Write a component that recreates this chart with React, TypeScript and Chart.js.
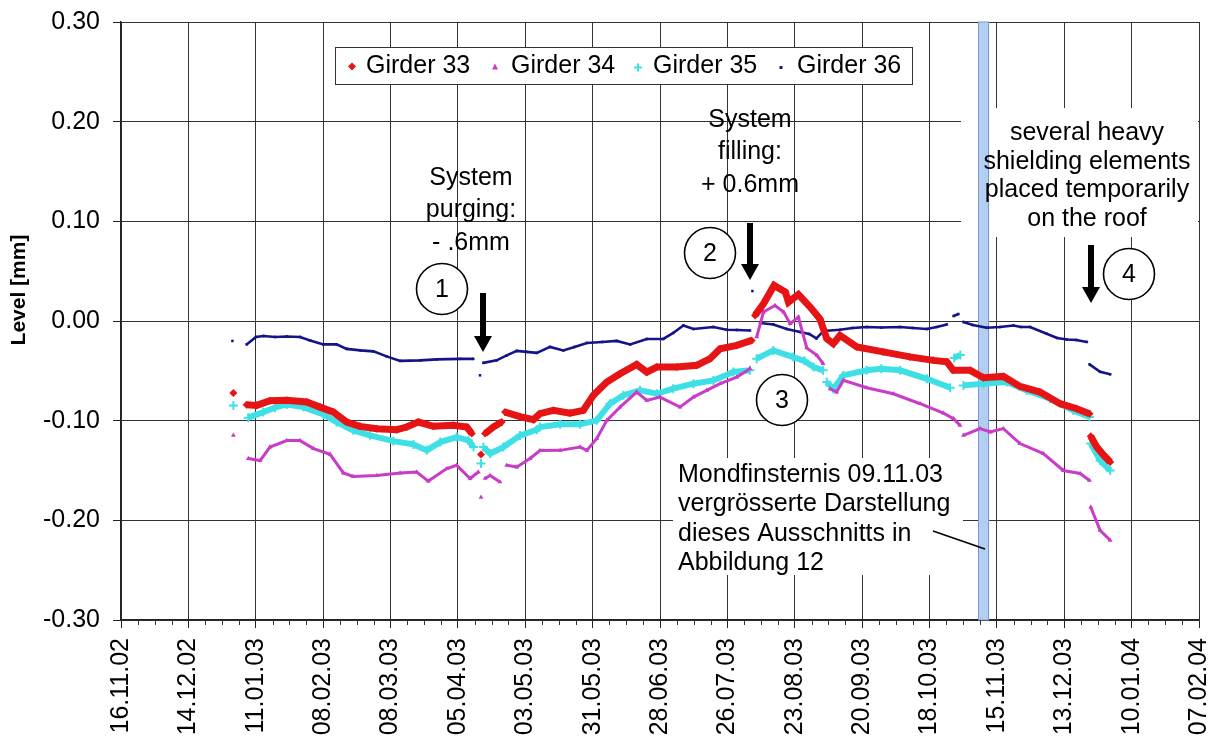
import React, { useEffect, useRef } from 'react';
import { Chart, registerables } from 'chart.js';

Chart.register(...registerables);

// ---- axis / tick data ----
const X_TICK_LABELS = [
  '16.11.02', '14.12.02', '11.01.03', '08.02.03', '08.03.03', '05.04.03', '03.05.03', '31.05.03',
  '28.06.03', '26.07.03', '23.08.03', '20.09.03', '18.10.03', '15.11.03', '13.12.03', '10.01.04', '07.02.04',
];
const X_MAJOR_STEP = 28; // days between labelled ticks
const X_MINOR_STEP = 7; // days between minor ticks
const X_MAX = 448; // days from 16.11.02 to 07.02.04
const Y_MIN = -0.3;
const Y_MAX = 0.3;
const Y_STEP = 0.1;

const SERIES_NAMES = ['Girder 33', 'Girder 34', 'Girder 35', 'Girder 36'];

// ---- series: [days since 16.11.02, level in mm] (null = gap) ----
type P = [number, number | null];

const GIRDER_33: P[] = [
  [46.7, -0.0723], [49.5, null],
  [52.2, -0.084], [56.4, -0.0847], [61.9, -0.08], [68.9, -0.0796], [77.2, -0.0813], [82.7, -0.0864],
  [88.3, -0.0914], [93.8, -0.1014], [99.3, -0.1057], [106.3, -0.108], [114.6, -0.109], [118.7, -0.1064],
  [123.6, -0.1014], [129.8, -0.1057], [138.1, -0.1047], [143.7, -0.1064], [145.8, -0.113], [147.6, null],
  [149.6, -0.134], [150.4, null],
  [151.3, -0.113], [154.7, -0.1064], [158.2, -0.1014], [159.0, null],
  [159.6, -0.0914], [165.8, -0.096], [171.4, -0.099], [174.1, -0.093], [179.7, -0.0897], [186.6, -0.0924],
  [192.1, -0.0897], [196.3, -0.0746], [201.9, -0.0613], [207.4, -0.0529], [214.3, -0.0435], [218.5, -0.0513],
  [222.7, -0.0462], [231.0, -0.0462], [239.3, -0.0445], [244.8, -0.0378], [249.0, -0.0278], [255.9, -0.0245],
  [262.1, -0.0195], [262.8, null],
  [263.5, 0.0056], [267.0, 0.0173], [271.4, 0.0357], [276.1, 0.029], [277.4, 0.019], [281.5, 0.0267],
  [286.4, 0.014], [290.5, 0.002], [293.3, -0.0178], [296.0, -0.0228], [298.8, -0.0145], [305.8, -0.026],
  [316.8, -0.031], [327.9, -0.036], [337.6, -0.0395], [343.2, -0.041], [345.9, -0.0495], [352.9, -0.0495],
  [358.4, -0.0569], [366.7, -0.0556], [373.6, -0.0656], [381.9, -0.0713], [390.3, -0.083], [397.2, -0.088],
  [402.5, -0.093], [402.7, null],
  [403.0, -0.1157], [405.5, -0.1265], [408.5, -0.135], [411.1, -0.1415],
];

const GIRDER_34: P[] = [
  [46.7, -0.1147], [49.5, null],
  [52.9, -0.138], [57.8, -0.14], [61.9, -0.1265], [68.9, -0.12], [74.4, -0.12], [80.0, -0.128],
  [86.9, -0.1338], [92.4, -0.1525], [96.5, -0.156], [106.3, -0.155], [116.0, -0.1525], [122.9, -0.1515],
  [127.7, -0.1606], [135.4, -0.148], [139.5, -0.1448], [145.1, -0.158], [148.5, -0.1515], [149.0, null],
  [149.6, -0.177], [150.3, null],
  [151.3, -0.158], [153.4, -0.155], [157.5, -0.1615], [159.0, null],
  [160.3, -0.1448], [164.5, -0.1465], [170.0, -0.138], [174.1, -0.13], [182.5, -0.1298], [190.8, -0.1265],
  [193.6, -0.1298], [197.7, -0.118], [201.9, -0.0997], [207.4, -0.0864], [214.3, -0.0713], [218.5, -0.0796],
  [224.0, -0.0763], [232.3, -0.0864], [237.9, -0.0763], [243.4, -0.0696], [249.0, -0.0629], [255.9, -0.0563],
  [261.4, -0.0478], [262.5, null],
  [264.2, -0.016], [267.0, 0.009], [271.8, 0.0156], [275.4, 0.009], [278.1, -0.0027], [281.5, 0.004],
  [285.0, -0.027], [289.2, -0.0345], [291.8, -0.0428], [293.0, null],
  [294.7, -0.068], [297.4, -0.0713], [300.2, -0.0596], [309.9, -0.0669], [321.0, -0.073], [332.1, -0.083],
  [341.8, -0.0924], [346.0, -0.098], [348.7, -0.1047], [349.4, null],
  [350.1, -0.1147], [357.0, -0.108], [361.2, -0.1114], [366.7, -0.108], [373.6, -0.123], [383.3, -0.133],
  [391.6, -0.15], [398.6, -0.153], [402.5, -0.16], [402.7, null],
  [403.0, -0.1866], [406.9, -0.21], [411.1, -0.22],
];

const GIRDER_35: P[] = [
  [46.7, -0.0847], [49.5, null],
  [52.9, -0.097], [59.1, -0.0914], [64.0, -0.087], [68.9, -0.0837], [75.8, -0.0864], [84.1, -0.0937],
  [89.6, -0.1014], [96.5, -0.1097], [103.5, -0.1147], [113.2, -0.1205], [121.5, -0.1238], [127.1, -0.1298],
  [132.7, -0.1215], [139.5, -0.1164], [144.4, -0.1198], [146.5, -0.1265], [148.0, null],
  [149.6, -0.143], [150.1, null],
  [150.6, -0.1265], [153.4, -0.133], [158.9, -0.1265], [165.8, -0.115], [172.8, -0.109], [174.1, -0.1064],
  [182.5, -0.1037], [190.8, -0.1037], [197.7, -0.0997], [203.2, -0.083], [208.8, -0.0746], [215.7, -0.0696],
  [222.7, -0.073], [229.5, -0.0679], [237.9, -0.0629], [246.2, -0.0596], [254.5, -0.0512], [261.4, -0.0495],
  [262.5, null],
  [264.2, -0.0378], [271.1, -0.0295], [279.4, -0.0362], [284.0, -0.04], [287.8, -0.0462], [291.8, -0.0495],
  [292.6, null],
  [293.3, -0.0613], [296.0, -0.068], [300.2, -0.0546], [309.9, -0.0495], [316.0, -0.048], [323.8, -0.0495],
  [334.9, -0.058], [344.6, -0.0669], [345.5, null],
  [346.3, -0.037], [348.8, -0.034], [349.5, null],
  [350.1, -0.0646], [358.4, -0.0629], [368.1, -0.0613], [376.4, -0.0696], [386.1, -0.078], [395.8, -0.0897],
  [402.5, -0.0964], [402.7, null],
  [403.0, -0.123], [406.9, -0.14], [411.1, -0.15],
];

const GIRDER_36: P[] = [
  [46.3, -0.02], [49.0, null],
  [52.2, -0.0235], [56.1, -0.016], [59.2, -0.015], [64.0, -0.016], [68.9, -0.0155], [74.4, -0.016],
  [78.6, -0.0195], [84.1, -0.0235], [89.6, -0.0235], [93.8, -0.028], [99.5, -0.0295], [104.9, -0.0305],
  [110.4, -0.0355], [116.0, -0.04], [124.3, -0.0395], [131.2, -0.0385], [140.9, -0.038], [146.4, -0.038],
  [147.8, null],
  [149.2, -0.0545], [149.9, null],
  [150.6, -0.042], [156.1, -0.0395], [160.3, -0.0345], [164.5, -0.03], [168.5, -0.031], [172.8, -0.032],
  [178.3, -0.026], [183.8, -0.0295], [188.5, -0.026], [193.6, -0.022], [200.0, -0.021], [206.0, -0.02],
  [211.6, -0.0235], [218.5, -0.018], [225.4, -0.018], [229.5, -0.012], [233.7, -0.0045], [237.9, -0.008],
  [246.2, -0.006], [251.7, -0.0088], [256.0, -0.009], [261.4, -0.0095], [261.9, null],
  [262.4, 0.03], [263.0, null],
  [265.6, -0.002], [271.1, -0.0035], [276.7, -0.008], [282.2, -0.011], [286.0, -0.013], [289.0, -0.0175],
  [292.0, -0.01], [298.8, -0.0088], [304.0, -0.007], [309.9, -0.006], [316.0, -0.0065], [323.8, -0.006],
  [329.0, -0.007], [334.9, -0.008], [339.0, -0.006], [343.2, -0.0035], [344.5, null],
  [346.0, 0.005], [348.0, 0.007], [349.0, null],
  [350.1, -0.001], [354.0, -0.004], [359.8, -0.0068], [365.3, -0.006], [370.9, -0.0045], [374.0, -0.006],
  [377.8, -0.006], [384.7, -0.0128], [389.0, -0.017], [393.1, -0.0185], [397.0, -0.019], [401.4, -0.021],
  [402.0, null],
  [402.5, -0.0435], [406.9, -0.051], [411.1, -0.0535],
];

// lunar eclipse 09.11.03 band (days since 16.11.02)
const ECLIPSE_BAND: [number, number] = [356.2, 360.8];

const COLORS = ['#e61414', '#c83cc8', '#3ee0e6', '#14148a'];
const FONT = '"Liberation Sans", Arial, Helvetica, sans-serif';

function toXY(arr: P[]) {
  return arr.map(([x, y]) => ({ x, y }));
}

function drawArrow(ctx: CanvasRenderingContext2D, x: number, y0: number, y1: number) {
  ctx.save();
  ctx.fillStyle = '#000';
  ctx.fillRect(x - 3, y0, 6, y1 - y0 - 14);
  ctx.beginPath();
  ctx.moveTo(x - 9, y1 - 16);
  ctx.lineTo(x + 9, y1 - 16);
  ctx.lineTo(x, y1);
  ctx.closePath();
  ctx.fill();
  ctx.restore();
}

function drawCircleNum(ctx: CanvasRenderingContext2D, x: number, y: number, t: string) {
  ctx.save();
  ctx.fillStyle = '#fff';
  ctx.strokeStyle = '#000';
  ctx.lineWidth = 1.6;
  ctx.beginPath();
  ctx.arc(x, y, 25.5, 0, Math.PI * 2);
  ctx.fill();
  ctx.stroke();
  ctx.fillStyle = '#000';
  ctx.font = `25px ${FONT}`;
  ctx.textAlign = 'center';
  ctx.textBaseline = 'middle';
  ctx.fillText(t, x, y + 1);
  ctx.restore();
}

function drawLines(ctx: CanvasRenderingContext2D, lines: string[], x: number, y0: number, dy: number, align: CanvasTextAlign) {
  ctx.save();
  ctx.fillStyle = '#000';
  ctx.font = `25px ${FONT}`;
  ctx.textAlign = align;
  ctx.textBaseline = 'middle';
  lines.forEach((l, i) => ctx.fillText(l, x, y0 + i * dy));
  ctx.restore();
}

const overlayPlugin = {
  id: 'overlay',
  beforeDatasetsDraw(chart: any) {
    const { ctx, chartArea: ca, scales } = chart;
    const xs = scales.x;
    ctx.save();
    // white backgrounds for text boxes
    ctx.fillStyle = '#fff';
    ctx.fillRect(961, 108, ca.right - 961 - 1, 129);
    ctx.fillRect(673, 458, 290, 117);
    // eclipse band
    const x0 = xs.getPixelForValue(ECLIPSE_BAND[0]);
    const x1 = xs.getPixelForValue(ECLIPSE_BAND[1]);
    ctx.fillStyle = '#b4cef2';
    ctx.fillRect(x0, ca.top, x1 - x0, ca.bottom - ca.top);
    ctx.strokeStyle = '#7c98c8';
    ctx.lineWidth = 1;
    ctx.strokeRect(Math.round(x0) + 0.5, ca.top, Math.round(x1 - x0) - 1, ca.bottom - ca.top);
    ctx.restore();
  },
  afterDatasetsDraw(chart: any) {
    const { ctx, chartArea: ca, scales } = chart;
    const xs = scales.x;
    ctx.save();
    // minor ticks on x axis
    ctx.strokeStyle = '#333';
    ctx.lineWidth = 1;
    for (let d = X_MINOR_STEP; d < X_MAX; d += X_MINOR_STEP) {
      if (d % X_MAJOR_STEP === 0) continue;
      const px = Math.round(xs.getPixelForValue(d)) + 0.5;
      ctx.beginPath();
      ctx.moveTo(px, ca.bottom);
      ctx.lineTo(px, ca.bottom + 5);
      ctx.stroke();
    }

    // y axis title
    ctx.save();
    ctx.translate(19, 290);
    ctx.rotate(-Math.PI / 2);
    ctx.font = `bold 21px ${FONT}`;
    ctx.fillStyle = '#000';
    ctx.textAlign = 'center';
    ctx.textBaseline = 'middle';
    ctx.fillText('Level [mm]', 0, 0);
    ctx.restore();

    // legend
    const lx = 335, ly = 47, lw = 577, lh = 37;
    ctx.fillStyle = '#fff';
    ctx.fillRect(lx, ly, lw, lh);
    ctx.strokeStyle = '#333';
    ctx.lineWidth = 1;
    ctx.strokeRect(lx + 0.5, ly + 0.5, lw, lh);
    const cy = ly + lh / 2 + 1;
    const mx = [352, 495, 638, 781];
    const tx = [366, 511, 653, 797];
    ctx.fillStyle = COLORS[0];
    ctx.beginPath();
    ctx.moveTo(mx[0], cy - 4); ctx.lineTo(mx[0] + 4, cy); ctx.lineTo(mx[0], cy + 4); ctx.lineTo(mx[0] - 4, cy);
    ctx.closePath(); ctx.fill();
    ctx.fillStyle = COLORS[1];
    ctx.beginPath();
    ctx.moveTo(mx[1], cy - 3); ctx.lineTo(mx[1] + 3, cy + 3); ctx.lineTo(mx[1] - 3, cy + 3);
    ctx.closePath(); ctx.fill();
    ctx.strokeStyle = COLORS[2];
    ctx.lineWidth = 2;
    ctx.beginPath();
    ctx.moveTo(mx[2] - 4, cy + 1); ctx.lineTo(mx[2] + 4, cy + 1);
    ctx.moveTo(mx[2], cy - 3); ctx.lineTo(mx[2], cy + 5);
    ctx.stroke();
    ctx.fillStyle = COLORS[3];
    ctx.fillRect(mx[3] - 1.5, cy - 0.5, 3, 3);
    ctx.fillStyle = '#000';
    ctx.font = `25px ${FONT}`;
    ctx.textAlign = 'left';
    ctx.textBaseline = 'middle';
    SERIES_NAMES.forEach((n, i) => ctx.fillText(n, tx[i], cy));

    // annotations
    drawLines(ctx, ['System', 'purging:', '- .6mm'], 471, 178, 32.5, 'center');
    drawLines(ctx, ['System', 'filling:', '+ 0.6mm'], 750, 120, 32.5, 'center');
    drawLines(ctx, ['several heavy', 'shielding elements', 'placed temporarily', 'on the roof'], 1087, 133, 28.8, 'center');
    drawLines(ctx, ['Mondfinsternis 09.11.03', 'vergrösserte Darstellung', 'dieses Ausschnitts in', 'Abbildung 12'], 678, 475, 29.5, 'left');

    // leader line to band
    ctx.strokeStyle = '#000';
    ctx.lineWidth = 1.6;
    ctx.beginPath();
    ctx.moveTo(933, 531);
    ctx.lineTo(985, 549);
    ctx.stroke();

    drawArrow(ctx, 483, 293, 352);
    drawArrow(ctx, 750, 223, 280);
    drawArrow(ctx, 1091, 245, 303);
    drawCircleNum(ctx, 442, 289, '1');
    drawCircleNum(ctx, 710, 253, '2');
    drawCircleNum(ctx, 782, 400, '3');
    drawCircleNum(ctx, 1129, 274, '4');
    ctx.restore();
  },
};

export default function App() {
  const ref = useRef<HTMLCanvasElement | null>(null);

  useEffect(() => {
    if (!ref.current) return;
    const gridColor = '#333';
    const chart = new Chart(ref.current, {
      type: 'line',
      data: {
        datasets: [
          {
            label: SERIES_NAMES[0], data: toXY(GIRDER_33), borderColor: COLORS[0], backgroundColor: COLORS[0],
            borderWidth: 7, pointStyle: 'rectRot', pointRadius: 4, pointBorderWidth: 0, spanGaps: false, tension: 0,
          },
          {
            label: SERIES_NAMES[1], data: toXY(GIRDER_34), borderColor: COLORS[1], backgroundColor: COLORS[1],
            borderWidth: 3, pointStyle: 'triangle', pointRadius: 2.8, pointBorderWidth: 0, spanGaps: false, tension: 0,
          },
          {
            label: SERIES_NAMES[2], data: toXY(GIRDER_35), borderColor: COLORS[2], backgroundColor: COLORS[2],
            borderWidth: 6, pointStyle: 'cross', pointRadius: 4.5, pointBorderWidth: 2, spanGaps: false, tension: 0,
          },
          {
            label: SERIES_NAMES[3], data: toXY(GIRDER_36), borderColor: COLORS[3], backgroundColor: COLORS[3],
            borderWidth: 2.6, pointStyle: 'rect', pointRadius: 1.8, pointBorderWidth: 0, spanGaps: false, tension: 0,
          },
        ],
      },
      options: {
        animation: false,
        responsive: false,
        maintainAspectRatio: false,
        events: [],
        layout: { padding: { left: 0, right: 14, top: 22, bottom: 0 } },
        plugins: { legend: { display: false }, tooltip: { enabled: false }, title: { display: false } },
        scales: {
          x: {
            type: 'linear',
            min: 0,
            max: X_MAX,
            afterFit: (s: any) => {
              s.height = 120;
              s.paddingLeft = 0;
              s.paddingRight = 0;
            },
            afterBuildTicks: (s: any) => {
              s.ticks = X_TICK_LABELS.map((_, i) => ({ value: i * X_MAJOR_STEP }));
            },
            ticks: {
              autoSkip: false,
              maxRotation: 90,
              minRotation: 90,
              padding: 10,
              color: '#000',
              font: { family: FONT, size: 25, lineHeight: 1 },
              callback: (v: any) => X_TICK_LABELS[Math.round(Number(v) / X_MAJOR_STEP)] ?? '',
            },
            grid: { color: gridColor, lineWidth: 1, tickLength: 8, tickColor: '#222' },
            border: { display: true, color: '#222', width: 1.4 },
          },
          y: {
            type: 'linear',
            min: Y_MIN,
            max: Y_MAX,
            afterFit: (s: any) => {
              s.width = 121;
              s.paddingTop = 0;
              s.paddingBottom = 0;
            },
            ticks: {
              stepSize: Y_STEP,
              padding: 13,
              color: '#000',
              font: { family: FONT, size: 25, lineHeight: 1 },
              callback: (v: any) => (Math.abs(Number(v)) < 1e-9 ? '0.00' : Number(v).toFixed(2)),
            },
            grid: { color: gridColor, lineWidth: 1, tickLength: 8, tickColor: '#222' },
            border: { display: true, color: '#222', width: 1.4 },
          },
        },
      },
      plugins: [overlayPlugin],
    } as any);
    return () => chart.destroy();
  }, []);

  return (
    <div style={{ position: 'fixed', left: 0, top: 0, width: 1213, height: 740, background: '#fff' }}>
      <canvas ref={ref} width={1213} height={740} style={{ display: 'block', width: 1213, height: 740 }} />
    </div>
  );
}
